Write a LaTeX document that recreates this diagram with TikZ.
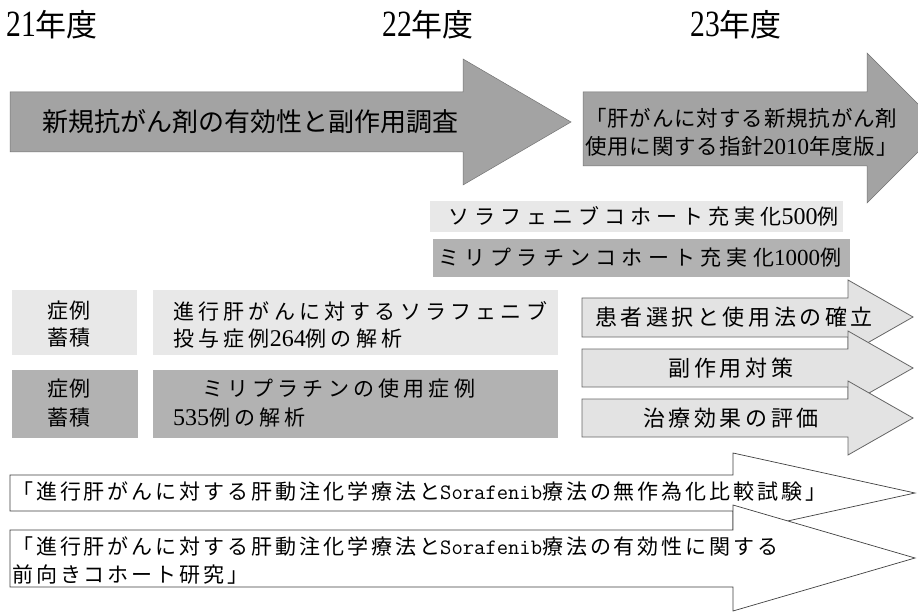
\documentclass[tikz,border=0pt]{standalone}
\usepackage{fontspec}
\setmainfont{Noto Sans CJK JP}
\newfontfamily\srf{Liberation Serif}
\newcommand\myfs[2]{\fontsize{#1}{#2}\selectfont}
\newcommand\myls[1]{\addfontfeatures{LetterSpace=#1}}
\newcommand\hdig[1]{\scalebox{0.8}[1]{\srf\myfs{37}{37}#1}}
\newcommand\dig[2]{{\srf\myfs{#1}{#1}#2}}
\newcommand\sora{{\ttfamily\myfs{22}{22}Sorafenib}}
\begin{document}
\begin{tikzpicture}[x=1pt,y=-1pt,
  txt/.style={inner sep=0pt, anchor=west, align=left, text=black},
  ctxt/.style={inner sep=0pt, anchor=center, align=center, text=black},
  bigarrow/.style={fill=black!36, draw=black!55, line width=0.5pt},
  larrow/.style={fill=black!11, draw=black!60, line width=0.8pt},
  warrow/.style={fill=white, draw=black!75, line width=0.7pt},
  lightbox/.style={fill=black!9, draw=none, inner sep=0pt, anchor=north west},
  midbox/.style={fill=black!30, draw=none, inner sep=0pt, anchor=north west},
  hdr/.style={inner sep=0pt, anchor=west, font=\myfs{31}{32}}
]
\useasboundingbox (0,0) rectangle (918,612);
\fill[white] (0,0) rectangle (918,612);
\clip (0,0) rectangle (918,612);

% headers
\node[hdr] (y21) at (6,25) {\hdig{21}年度};
\node[hdr] (y22) at (382,25) {\hdig{22}年度};
\node[hdr] (y23) at (690,25) {\hdig{23}年度};

% big arrows
\draw[bigarrow] (10,92) -- (463,92) -- (463,59) -- (571,122) -- (463,185) -- (463,152) -- (10,152) -- cycle;
\node[ctxt, font=\myfs{26}{28}] (ta1) at (250,122) {新規抗がん剤の有効性と副作用調査};
\draw[bigarrow] (583,92) -- (867,92) -- (867,53) -- (942,128) -- (867,203) -- (867,166) -- (583,166) -- cycle;
\node[txt, font=\myfs{21.5}{28}\myls{4}] (ta2) at (585,132) {「肝がんに対する新規抗がん剤\\使用に関する指針\dig{23}{2010}年度版」};

% cohort boxes
\node[lightbox, minimum width=413pt, minimum height=31pt] (s1) at (430,201) {};
\node[txt, font=\myfs{21}{28}\myls{24}] (ts1) at (448,216.5) {ソラフェニブコホート充実化\dig{24}{500}例};
\node[midbox, minimum width=417pt, minimum height=38pt] (s2) at (433,239) {};
\node[txt, font=\myfs{21}{28}\myls{25}] (ts2) at (438,258) {ミリプラチンコホート充実化\dig{23}{1000}例};

% left boxes
\node[lightbox, minimum width=125pt, minimum height=65pt] (b1) at (12,290) {};
\node[txt, font=\myfs{21}{27}\myls{5}] (tb1) at (47,324.5) {症例\\蓄積};
\node[lightbox, minimum width=405pt, minimum height=65pt] (b2) at (153,290) {};
\node[txt, font=\myfs{21}{27}\myls{20}] (tb2) at (173,324.5) {進行肝がんに対するソラフェニブ\\投与症例\dig{24}{264}例の解析};
\node[midbox, minimum width=126pt, minimum height=68pt] (b3) at (12,370) {};
\node[txt, font=\myfs{21}{29}\myls{5}] (tb3) at (47,403.5) {症例\\蓄積};
\node[midbox, minimum width=405pt, minimum height=68pt] (b4) at (153,370) {};
\node[txt, font=\myfs{21}{29}\myls{20}] (tb4) at (173,403.5) {\hspace*{29pt}ミリプラチンの使用症例\\\dig{24}{535}例の解析};

% right arrows
\draw[larrow] (582,298) -- (848,298) -- (848,280) -- (913,317) -- (848,354) -- (848,337) -- (582,337) -- cycle;
\node[ctxt, font=\myfs{22}{24}\myls{16}] (tr1) at (734,317) {患者選択と使用法の確立};
\draw[larrow] (582,349) -- (848,349) -- (848,331) -- (913,368) -- (848,405) -- (848,387) -- (582,387) -- cycle;
\node[ctxt, font=\myfs{22}{24}\myls{16}] (tr2) at (731,368) {副作用対策};
\draw[larrow] (582,399) -- (848,399) -- (848,381) -- (913,418) -- (848,455) -- (848,437) -- (582,437) -- cycle;
\node[ctxt, font=\myfs{22}{24}\myls{16}] (tr3) at (731,418) {治療効果の評価};

% bottom arrows
\draw[warrow] (10,475) -- (733,475) -- (733,453) -- (915,493) -- (733,533) -- (733,511) -- (10,511) -- cycle;
\node[txt, font=\myfs{21}{28}\myls{14}] (tA) at (12,492) {「進行肝がんに対する肝動注化学療法と\sora 療法の無作為化比較試験」};
\draw[warrow] (10,530) -- (733,530) -- (733,505) -- (915,558) -- (733,611) -- (733,587) -- (10,587) -- cycle;
\node[txt, font=\myfs{21}{28}\myls{14}] (tB) at (12,561) {「進行肝がんに対する肝動注化学療法と\sora 療法の有効性に関する\\前向きコホート研究」};
\end{tikzpicture}
\end{document}
